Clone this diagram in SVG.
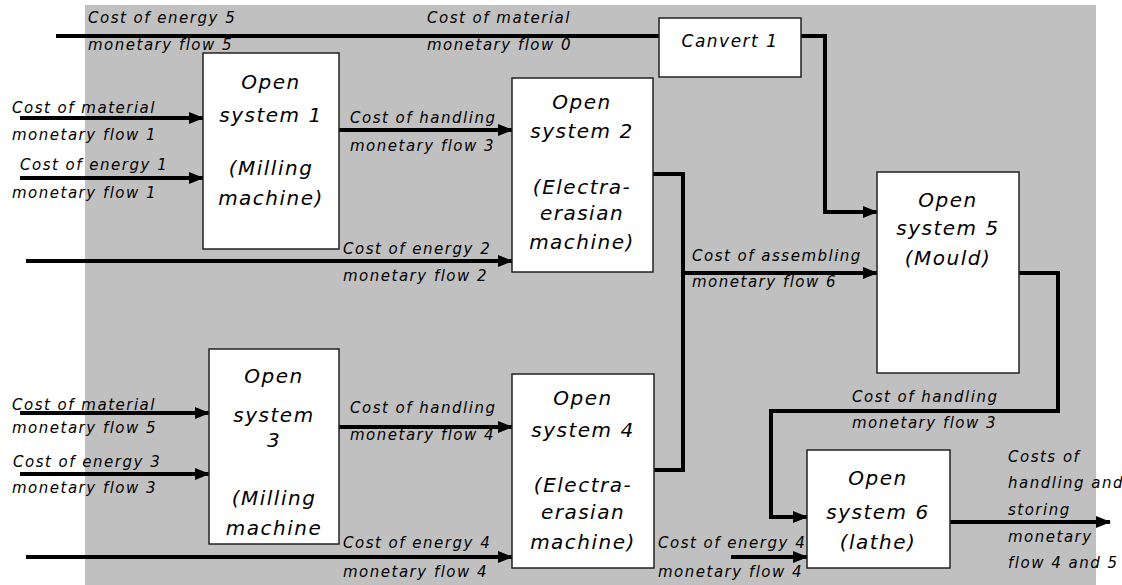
<svg xmlns="http://www.w3.org/2000/svg" width="1122" height="585" viewBox="0 0 1122 585">
<style>
.lbl{font-family:"DejaVu Sans",sans-serif;font-style:italic;font-size:15px;letter-spacing:1.5px;fill:#000}
.nt{font-family:"DejaVu Sans",sans-serif;font-style:italic;font-size:20px;letter-spacing:1.5px;fill:#000;text-anchor:middle}
.box{fill:#fff;stroke:#222;stroke-width:1.5}
.ln{fill:none;stroke:#000;stroke-width:4}
.ar{fill:none;stroke:#000;stroke-width:4;marker-end:url(#ah)}
</style>
<defs>
<marker id="ah" markerUnits="userSpaceOnUse" markerWidth="15" markerHeight="12" refX="14" refY="6" orient="auto">
<path d="M0,0 L15,6 L0,12 z" fill="#000"/>
</marker>
</defs>
<rect x="85" y="5" width="1011" height="580" fill="#c0c0c0"/>
<g id="connectors">
<path class="ln" d="M56,36 H659"/>
<path class="ar" d="M801,36 H825 V212 H877"/>
<path class="ar" d="M20,118 H203"/>
<path class="ar" d="M20,178 H203"/>
<path class="ar" d="M339,130 H512"/>
<path class="ar" d="M26,261 H512"/>
<path class="ln" d="M653,174 H683 V470 H654"/>
<path class="ar" d="M683,273 H877"/>
<path class="ar" d="M20,413 H209"/>
<path class="ar" d="M20,474 H209"/>
<path class="ar" d="M339,427 H512"/>
<path class="ar" d="M26,557 H512"/>
<path class="ar" d="M1019,273 H1058 V411 H771 V517 H807"/>
<path class="ar" d="M731,557 H807"/>
<path class="ar" d="M950,522 H1110"/>
</g>
<g id="labels">
<text class="lbl" x="88" y="23">Cost of energy 5</text>
<text class="lbl" x="88" y="50">monetary flow 5</text>
<text class="lbl" x="427" y="23">Cost of material</text>
<text class="lbl" x="427" y="50">monetary flow 0</text>
<text class="lbl" x="12" y="113">Cost of material</text>
<text class="lbl" x="12" y="140">monetary flow 1</text>
<text class="lbl" x="20" y="170">Cost of energy 1</text>
<text class="lbl" x="12" y="198">monetary flow 1</text>
<text class="lbl" x="350" y="123">Cost of handling</text>
<text class="lbl" x="350" y="151">monetary flow 3</text>
<text class="lbl" x="343" y="254">Cost of energy 2</text>
<text class="lbl" x="343" y="281">monetary flow 2</text>
<text class="lbl" x="692" y="261">Cost of assembling</text>
<text class="lbl" x="692" y="287">monetary flow 6</text>
<text class="lbl" x="12" y="410">Cost of material</text>
<text class="lbl" x="12" y="433">monetary flow 5</text>
<text class="lbl" x="13" y="467">Cost of energy 3</text>
<text class="lbl" x="12" y="493">monetary flow 3</text>
<text class="lbl" x="350" y="413">Cost of handling</text>
<text class="lbl" x="350" y="440">monetary flow 4</text>
<text class="lbl" x="343" y="548">Cost of energy 4</text>
<text class="lbl" x="343" y="577">monetary flow 4</text>
<text class="lbl" x="852" y="402">Cost of handling</text>
<text class="lbl" x="852" y="428">monetary flow 3</text>
<text class="lbl" x="658" y="548">Cost of energy 4</text>
<text class="lbl" x="658" y="577">monetary flow 4</text>
<text class="lbl" x="1008" y="462">Costs of</text>
<text class="lbl" x="1008" y="488">handling and</text>
<text class="lbl" x="1008" y="515">storing</text>
<text class="lbl" x="1008" y="542">monetary</text>
<text class="lbl" x="1008" y="568">flow 4 and 5</text>
</g>
<g id="convert1">
<rect class="box" x="659" y="18" width="142" height="59"/>
<text class="nt" x="730" y="47" style="font-size:17px">Canvert 1</text>
</g>
<g id="open1">
<rect class="box" x="203" y="53" width="136" height="196"/>
<text class="nt" x="271" y="89">Open</text>
<text class="nt" x="271" y="122">system 1</text>
<text class="nt" x="271" y="175">(Milling</text>
<text class="nt" x="271" y="205">machine)</text>
</g>
<g id="open2">
<rect class="box" x="512" y="78" width="141" height="194"/>
<text class="nt" x="582" y="109">Open</text>
<text class="nt" x="582" y="138">system 2</text>
<text class="nt" x="582" y="194">(Electra-</text>
<text class="nt" x="582" y="220">erasian</text>
<text class="nt" x="582" y="249">machine)</text>
</g>
<g id="open3">
<rect class="box" x="209" y="349" width="130" height="195"/>
<text class="nt" x="274" y="383">Open</text>
<text class="nt" x="274" y="422">system</text>
<text class="nt" x="274" y="447">3</text>
<text class="nt" x="274" y="505">(Milling</text>
<text class="nt" x="274" y="535">machine</text>
</g>
<g id="open4">
<rect class="box" x="512" y="374" width="142" height="194"/>
<text class="nt" x="583" y="405">Open</text>
<text class="nt" x="583" y="437">system 4</text>
<text class="nt" x="583" y="492">(Electra-</text>
<text class="nt" x="583" y="519">erasian</text>
<text class="nt" x="583" y="549">machine)</text>
</g>
<g id="open5">
<rect class="box" x="877" y="172" width="142" height="201"/>
<text class="nt" x="948" y="207">Open</text>
<text class="nt" x="948" y="235">system 5</text>
<text class="nt" x="948" y="265">(Mould)</text>
</g>
<g id="open6">
<rect class="box" x="807" y="450" width="143" height="118"/>
<text class="nt" x="878" y="485">Open</text>
<text class="nt" x="878" y="519">system 6</text>
<text class="nt" x="878" y="549">(lathe)</text>
</g>
</svg>
